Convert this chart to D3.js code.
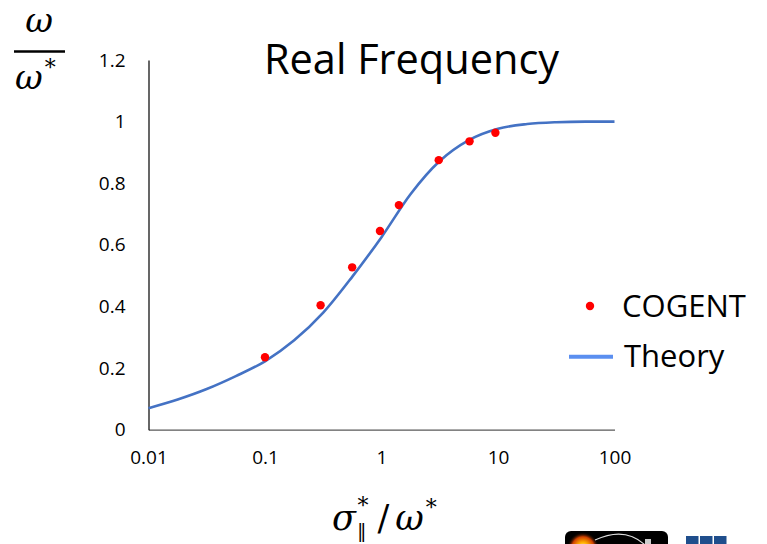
<!DOCTYPE html>
<html><head><meta charset="utf-8">
<script src="https://cdn.jsdelivr.net/npm/d3@7"></script>
<style>body{margin:0;background:#fff;} svg{display:block;}</style>
</head><body>
<svg id="c" width="767" height="544"></svg>
<script>
// ---- data ----
const cogentX = [0.1, 0.3, 0.56, 0.97, 1.41, 3.1, 5.7, 9.5];
const cogentY = [0.235, 0.404, 0.527, 0.645, 0.729, 0.875, 0.936, 0.964];
const theoryX = [0.01, 0.0178, 0.0316, 0.0562, 0.1, 0.178, 0.316, 0.562, 1, 1.78, 3.16, 5.62, 10, 17.8, 31.6, 56.2, 100];
const theoryY = [0.07, 0.098, 0.132, 0.174, 0.222, 0.29, 0.38, 0.497, 0.625, 0.765, 0.872, 0.94, 0.977, 0.992, 0.998, 1.0, 1.0];
const xTicks = [0.01, 0.1, 1, 10, 100];
const xTickLabels = ["0.01", "0.1", "1", "10", "100"];
const yTicks = [0, 0.2, 0.4, 0.6, 0.8, 1, 1.2];
const yTickLabels = ["0", "0.2", "0.4", "0.6", "0.8", "1", "1.2"];
const title = "Real Frequency";
const legendLabels = ["COGENT", "Theory"];

const svg = d3.select("#c");
const font = "'Open Sans', 'Noto Sans', sans-serif";
const x = d3.scaleLog().domain([0.01, 100]).range([148.5, 614.5]);
const y = d3.scaleLinear().domain([0, 1.2]).range([429.7, 60]);

// axes
const xAxis = d3.axisBottom(x).tickValues(xTicks).tickSize(0).tickPadding(21)
  .tickFormat((d, i) => xTickLabels[i]);
const gx = svg.append("g").attr("transform", `translate(0,${y(0)})`).call(xAxis);
gx.select(".domain").attr("stroke", "#595959").attr("stroke-width", 1.2);
gx.selectAll("text").attr("font-family", font).attr("font-size", 19).attr("fill", "#000");

const yAxis = d3.axisLeft(y).tickValues(yTicks).tickSize(0).tickPadding(23)
  .tickFormat((d, i) => yTickLabels[i]);
const gy = svg.append("g").attr("transform", `translate(${x(0.01)},0)`).call(yAxis);
gy.select(".domain").attr("stroke", "#000").attr("stroke-width", 1.2);
gy.selectAll("text").attr("font-family", font).attr("font-size", 19).attr("fill", "#000");

// theory line
const theory = theoryX.map((d, i) => [d, theoryY[i]]);
svg.append("path").datum(theory)
  .attr("fill", "none").attr("stroke", "#4472C4").attr("stroke-width", 2.6)
  .attr("d", d3.line().x(d => x(d[0])).y(d => y(d[1])).curve(d3.curveMonotoneX));

// cogent points
svg.append("g").selectAll("circle").data(cogentX.map((d, i) => [d, cogentY[i]]))
  .join("circle").attr("cx", d => x(d[0])).attr("cy", d => y(d[1])).attr("r", 4.2)
  .attr("fill", "#ff0000");

// title
svg.append("text").attr("x", 411.5).attr("y", 73.5).attr("text-anchor", "middle")
  .attr("font-family", font).attr("font-size", 41.5).attr("fill", "#000").text(title);

// legend
svg.append("circle").attr("cx", 590).attr("cy", 306).attr("r", 4.2).attr("fill", "#ff0000");
svg.append("text").attr("x", 622).attr("y", 317).attr("font-family", font).attr("font-size", 31)
  .attr("fill", "#000").text(legendLabels[0]);
svg.append("line").attr("x1", 569).attr("x2", 613).attr("y1", 356.7).attr("y2", 356.7)
  .attr("stroke", "#5B8FF0").attr("stroke-width", 4);
svg.append("text").attr("x", 624).attr("y", 367).attr("font-family", font).attr("font-size", 31)
  .attr("fill", "#000").text(legendLabels[1]);

// y-axis label: omega / omega*
const mf = "'DejaVu Serif', serif";
svg.append("text").attr("x", 39).attr("y", 32).attr("text-anchor", "middle")
  .attr("font-family", mf).attr("font-style", "italic").attr("font-size", 34).text("ω");
svg.append("line").attr("x1", 14).attr("x2", 65).attr("y1", 51.5).attr("y2", 51.5)
  .attr("stroke", "#000").attr("stroke-width", 2.5);
const den = svg.append("text").attr("x", 15).attr("y", 89)
  .attr("font-family", mf).attr("font-size", 34);
den.append("tspan").attr("font-style", "italic").text("ω");
den.append("tspan").attr("font-size", 22).attr("dy", -14).attr("dx", 2).text("*");

// x-axis label: sigma_par* / omega*
const xl = svg.append("text").attr("x", 332).attr("y", 530)
  .attr("font-family", mf).attr("font-size", 35);
xl.append("tspan").attr("font-style", "italic").text("σ");
xl.append("tspan").attr("font-size", 19).attr("dy", 7).attr("dx", 1).text("‖");
xl.append("tspan").attr("font-size", 22).attr("dy", -24).attr("dx", -9).text("*");
xl.append("tspan").attr("dy", 17).attr("dx", 9).text("/");
xl.append("tspan").attr("font-style", "italic").attr("dx", 6).text("ω");
xl.append("tspan").attr("font-size", 22).attr("dy", -15).attr("dx", 2).text("*");

// logos (partially visible at bottom)
const defs = svg.append("defs");
const rg = defs.append("radialGradient").attr("id", "glow");
rg.append("stop").attr("offset", "0%").attr("stop-color", "#fff6b0");
rg.append("stop").attr("offset", "35%").attr("stop-color", "#ffb000");
rg.append("stop").attr("offset", "70%").attr("stop-color", "#d04000");
rg.append("stop").attr("offset", "100%").attr("stop-color", "#000").attr("stop-opacity", 0);
svg.append("rect").attr("x", 565).attr("y", 531).attr("width", 103).attr("height", 30).attr("rx", 6).attr("fill", "#000");
svg.append("circle").attr("cx", 583).attr("cy", 548).attr("r", 16).attr("fill", "url(#glow)");
svg.append("path").attr("d", "M595,540 Q625,526 645,545").attr("fill", "none").attr("stroke", "#ddd").attr("stroke-width", 1.2);
svg.append("rect").attr("x", 645).attr("y", 539).attr("width", 6).attr("height", 6).attr("fill", "#ccc");
[686, 700, 714].forEach(px => svg.append("rect").attr("x", px).attr("y", 536).attr("width", 12.5).attr("height", 10).attr("fill", "#1F4E8C"));
</script>
</body></html>
